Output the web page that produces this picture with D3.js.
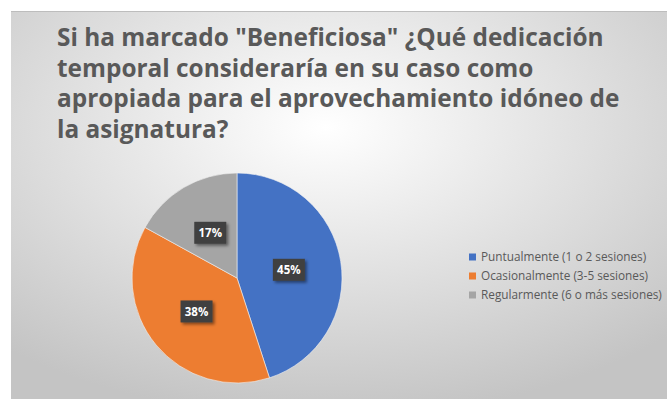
<!DOCTYPE html>
<html>
<head>
<meta charset="utf-8">
<script src="https://cdn.jsdelivr.net/npm/d3@7"></script>
<style>
  body { margin: 0; background: #ffffff; }
  svg { display: block; }
</style>
</head>
<body>
<div id="chart"></div>
<script>
// chart data
var categories = ["Puntualmente (1 o 2 sesiones)", "Ocasionalmente (3-5 sesiones)", "Regularmente (6 o más sesiones)"];
var values = [45, 38, 17];
var colors = ["#4472C4", "#ED7D31", "#A5A5A5"];
var titleLines = [
  "Si ha marcado \"Beneficiosa\" ¿Qué dedicación",
  "temporal consideraría en su caso como",
  "apropiada para el aprovechamiento idóneo de",
  "la asignatura?"
];

var W = 667, H = 399;
var font = "'Open Sans', sans-serif";

var svg = d3.select("#chart").append("svg")
    .attr("width", W)
    .attr("height", H);

var defs = svg.append("defs");

// background gradient like the office chart area
var grad = defs.append("radialGradient")
    .attr("id", "bg")
    .attr("cx", "48%").attr("cy", "30%")
    .attr("r", "75%");
grad.append("stop").attr("offset", "0%").attr("stop-color", "#ffffff");
grad.append("stop").attr("offset", "100%").attr("stop-color", "#c4c4c4");

var shadow = defs.append("filter").attr("id", "shadow")
    .attr("x", "-30%").attr("y", "-30%").attr("width", "170%").attr("height", "170%");
shadow.append("feDropShadow")
    .attr("dx", 2).attr("dy", 2).attr("stdDeviation", 1.5)
    .attr("flood-color", "#000").attr("flood-opacity", 0.45);

svg.append("rect")
    .attr("x", 11).attr("y", 11)
    .attr("width", W - 11).attr("height", H - 11)
    .attr("fill", "url(#bg)");
svg.append("line")
    .attr("x1", 11).attr("x2", W).attr("y1", 11.5).attr("y2", 11.5)
    .attr("stroke", "#bdbdbd");

// title
var titleText = svg.append("g").selectAll("text")
  .data(titleLines)
  .enter().append("text")
    .attr("x", 57)
    .attr("y", function(d, i) { return 46 + i * 30.7; })
    .attr("fill", "#595959")
    .style("font-family", font)
    .style("font-weight", "bold")
    .style("font-size", "21px")
    .text(function(d) { return d; });

// scale title font so the first line has the same width as the picture
var w0 = titleText.node().getComputedTextLength();
titleText.style("font-size", (21 * 547 / w0) + "px");

// pie
var cx = 237, cy = 278, r = 105;
var pie = d3.pie().sort(null).value(function(d) { return d; });
var arc = d3.arc().innerRadius(0).outerRadius(r);
var labelArc = d3.arc().innerRadius(r * 0.5).outerRadius(r * 0.5);

var g = svg.append("g").attr("transform", "translate(" + cx + "," + cy + ")");
var arcs = pie(values);

g.selectAll("path.slice")
  .data(arcs)
  .enter().append("path")
    .attr("class", "slice")
    .attr("d", arc)
    .attr("fill", function(d, i) { return colors[i]; })
    .attr("stroke", "#f2f2f2")
    .attr("stroke-width", 0.6);

var labels = g.selectAll("g.lab")
  .data(arcs)
  .enter().append("g")
    .attr("class", "lab")
    .attr("transform", function(d) {
      var c = labelArc.centroid(d);
      return "translate(" + c[0] + "," + c[1] + ")";
    });

labels.append("rect")
    .attr("x", -16).attr("y", -11)
    .attr("width", 32).attr("height", 22)
    .attr("fill", "#404040")
    .attr("filter", "url(#shadow)");

labels.append("text")
    .attr("text-anchor", "middle")
    .attr("dy", "0.36em")
    .attr("fill", "#ffffff")
    .style("font-family", font)
    .style("font-weight", "bold")
    .style("font-size", "11.5px")
    .text(function(d) { return d.data + "%"; });

// legend
var legend = svg.append("g").attr("transform", "translate(469,257)");
var rows = legend.selectAll("g")
  .data(categories)
  .enter().append("g")
    .attr("transform", function(d, i) { return "translate(0," + (i * 19) + ")"; });

rows.append("rect")
    .attr("x", 0).attr("y", -3.5)
    .attr("width", 7).attr("height", 7)
    .attr("fill", function(d, i) { return colors[i]; });

var legText = rows.append("text")
    .attr("x", 12)
    .attr("dy", "0.35em")
    .attr("fill", "#595959")
    .style("font-family", font)
    .style("font-size", "10.5px")
    .text(function(d) { return d; });

var lw = legText.filter(function(d, i) { return i === 2; }).node().getComputedTextLength();
legText.style("font-size", (10.5 * 181 / lw) + "px");
</script>
</body>
</html>
